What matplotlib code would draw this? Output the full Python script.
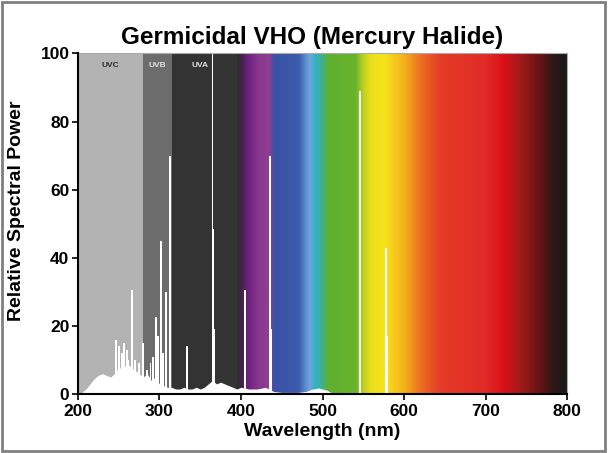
import numpy as np
import matplotlib
matplotlib.use("Agg")
import matplotlib.pyplot as plt
from matplotlib.colors import LinearSegmentedColormap
from matplotlib.patches import Rectangle

# ---------------- data ----------------
title = "Germicidal VHO (Mercury Halide)"
x_label = "Wavelength (nm)"
y_label = "Relative Spectral Power"
x_ticks = [200, 300, 400, 500, 600, 700, 800]
y_ticks = [0, 20, 40, 60, 80, 100]

# UV bands (start, end, colour, label, label colour)
band_start = [200, 280, 315]
band_end = [280, 315, 397]
band_colors = ["#b3b3b3", "#6c6c6c", "#333333"]
band_labels = ["UVC", "UVB", "UVA"]
band_label_x = [240, 297, 350]
band_label_colors = ["#2a2a2a", "#e0e0e0", "#e0e0e0"]

# visible spectrum colour stops
spec_wl = [395, 401, 408, 420, 434, 439, 470, 478, 484, 490, 498, 506, 540,
           548, 558, 575, 588, 600, 622, 645, 700, 722, 740, 765, 785, 800]
spec_col = ["#2e2e2e", "#4a1f55", "#6e2280", "#88358e", "#8e3f92", "#3b52a6",
            "#3b5aac", "#5c8ccc", "#72a6da", "#2eb2c8", "#3fb090", "#5eb030",
            "#6ab42c", "#b2cc22", "#ecdf1c", "#f6e41c", "#f8c81c", "#f4b01c",
            "#ec6a22", "#e43c28", "#e02a26", "#da1018", "#a81a1a", "#6a1414",
            "#2a1818", "#1a1a1a"]

# continuum of the lamp spectrum
base_wl = [200, 205, 210, 215, 220, 225, 230, 235, 240, 245, 250, 255, 260,
           265, 270, 275, 280, 285, 290, 295, 300, 305, 310, 315, 320, 325,
           330, 335, 340, 345, 350, 355, 360, 365, 370, 375, 380, 385, 390,
           395, 400, 410, 420, 430, 440, 450, 460, 470, 480, 488, 495, 500,
           505, 510, 520, 540, 560, 580, 600, 650, 700, 750, 800]
base_val = [0, 0.5, 1.5, 3, 4.5, 5.5, 6, 5.5, 5, 6, 8, 7, 9,
            8, 7, 6, 5, 6, 4, 5, 3, 2.5, 2, 2, 1.5, 1.5,
            2, 1.5, 1.5, 2, 1.5, 2, 3, 4, 3, 3.5, 3, 2.5, 2,
            1.5, 2, 1.5, 1.5, 2, 0.8, 0.5, 0.5, 0.5, 0.8, 1.5, 1.8, 1.5,
            1.2, 0.5, 0.3, 0.2, 0.2, 0.2, 0.2, 0.2, 0.3, 0.3, 0.3]

# emission lines (narrow spikes)
line_wl = [247, 250, 254, 257, 260, 262, 266, 270, 275, 280, 285, 289, 292,
           296, 298, 302, 304, 308, 313, 334, 365, 366, 405, 436, 546, 578]
line_val = [16, 14, 12, 15, 13, 10, 30.5, 10, 9, 15, 7, 9, 11,
            22.5, 17, 45, 12, 30, 70, 14, 100, 48.5, 30.5, 70, 89, 43]
# broader shoulders at the base of the strong lines
shoulder_wl = [313, 366, 405, 436, 546, 578]
shoulder_val = [30, 19, 20, 19, 20, 17]

FAM = ['Liberation Sans', 'DejaVu Sans']

# ---------------- figure ----------------
plt.rcParams['font.family'] = FAM
fig = plt.figure(figsize=(6.08, 4.53), dpi=100)
ax = fig.add_axes([0.128, 0.130, 0.805, 0.752])

for s, e, c in zip(band_start, band_end, band_colors):
    ax.axvspan(s, e, color=c, lw=0, zorder=0)

cmap = LinearSegmentedColormap.from_list(
    "spec", [((w - spec_wl[0]) / (spec_wl[-1] - spec_wl[0]), c)
             for w, c in zip(spec_wl, spec_col)])
grad = np.linspace(0, 1, 800).reshape(1, -1)
ax.imshow(grad, cmap=cmap, aspect="auto",
          extent=[spec_wl[0], spec_wl[-1], 0, 100], zorder=0.5,
          interpolation="bilinear")

ax.fill_between(base_wl, 0, base_val, color="white", lw=0, zorder=2)
ax.bar(shoulder_wl, shoulder_val, width=3.5, color="white", lw=0, zorder=2)
ax.bar(line_wl, line_val, width=2.2, color="white", lw=0, zorder=2)

for x, lab, c in zip(band_label_x, band_labels, band_label_colors):
    ax.text(x, 96.5, lab, fontsize=6, fontweight="bold", color=c,
            ha="center", va="center", zorder=3)

ax.set_xlim(200, 800)
ax.set_ylim(0, 100)
ax.set_xticks(x_ticks)
ax.set_yticks(y_ticks)
ax.tick_params(direction="out", length=4, width=1.2, labelsize=12.5)
ax.tick_params(axis="x", pad=3)
ax.tick_params(axis="y", pad=2)
for lbl in ax.get_xticklabels() + ax.get_yticklabels():
    lbl.set_fontweight("bold")

for sp in ["left", "bottom"]:
    ax.spines[sp].set_linewidth(1.5)
    ax.spines[sp].set_zorder(5)
for sp in ["top", "right"]:
    ax.spines[sp].set_color("#aaaaaa")
    ax.spines[sp].set_linewidth(0.8)

ax.set_xlabel(x_label, fontsize=14, fontweight="bold", labelpad=3)
ax.set_ylabel(y_label, fontsize=14, fontweight="bold")
ax.yaxis.set_label_coords(-0.108, 0.538)
ax.set_title(title, fontsize=17.5, fontweight="bold", pad=7, x=0.479)

fig.patches.append(Rectangle((0.004, 0.005), 0.991, 0.99,
                             transform=fig.transFigure, fill=False,
                             edgecolor="#808080", lw=2))

fig.savefig("out.png", dpi=100)
